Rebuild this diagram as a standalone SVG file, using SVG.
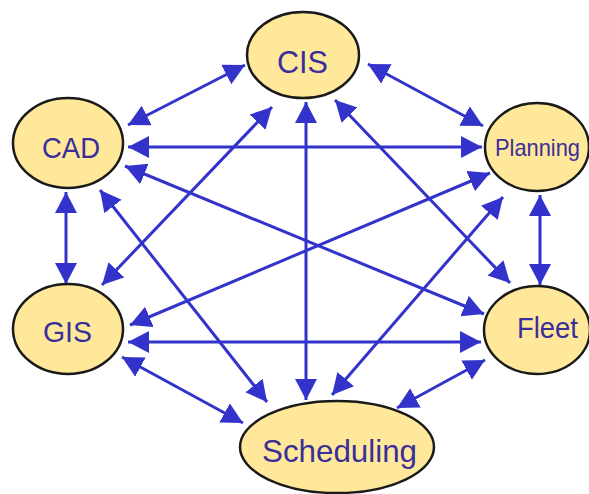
<svg xmlns="http://www.w3.org/2000/svg" width="589" height="494" viewBox="0 0 589 494">
<style>
.node ellipse{fill:#FFE899;stroke:#1a1a1a;stroke-width:2.5}
.node text{font-family:"Liberation Sans",Arial,sans-serif;fill:#3a2f9a}
.conn line{stroke:#3333CC;stroke-width:3;marker-start:url(#ah);marker-end:url(#ah)}
</style>
<defs>
<marker id="ah" markerUnits="userSpaceOnUse" markerWidth="24" markerHeight="24" refX="21" refY="11" orient="auto-start-reverse">
<path d="M0,0 L21,11 L0,22 z" fill="#3333CC"/>
</marker>
</defs>
<rect width="589" height="494" fill="#ffffff"/>
<g id="connectors" class="conn">
<line x1="245" y1="65" x2="128" y2="125"/>
<line x1="368" y1="64" x2="483" y2="126"/>
<line x1="128" y1="147" x2="482" y2="147"/>
<line x1="66" y1="192" x2="66" y2="284"/>
<line x1="540" y1="195" x2="540" y2="285"/>
<line x1="128" y1="342" x2="481" y2="342"/>
<line x1="306" y1="102" x2="306" y2="400"/>
<line x1="272" y1="107" x2="102" y2="285"/>
<line x1="335" y1="100" x2="510" y2="283"/>
<line x1="125" y1="166" x2="484" y2="314"/>
<line x1="100" y1="190" x2="267" y2="402"/>
<line x1="490" y1="173" x2="130" y2="325"/>
<line x1="503" y1="197" x2="332" y2="395"/>
<line x1="122" y1="357" x2="243" y2="423"/>
<line x1="485" y1="360" x2="397" y2="408"/>
</g>
<g id="cis" class="node">
<ellipse cx="303" cy="55" rx="56" ry="43"/>
<text x="277" y="73" font-size="32" textLength="51" lengthAdjust="spacingAndGlyphs">CIS</text>
</g>
<g id="cad" class="node">
<ellipse cx="68" cy="143" rx="55" ry="45"/>
<text x="42" y="158" font-size="29" textLength="58" lengthAdjust="spacingAndGlyphs">CAD</text>
</g>
<g id="planning" class="node">
<ellipse cx="537" cy="147" rx="52" ry="44"/>
<text x="495" y="156" font-size="24" textLength="85" lengthAdjust="spacingAndGlyphs">Planning</text>
</g>
<g id="gis" class="node">
<ellipse cx="68" cy="329" rx="55" ry="45"/>
<text x="43" y="342" font-size="30" textLength="49" lengthAdjust="spacingAndGlyphs">GIS</text>
</g>
<g id="fleet" class="node">
<ellipse cx="537" cy="330" rx="53" ry="44"/>
<text x="517" y="338" font-size="29" textLength="61" lengthAdjust="spacingAndGlyphs">Fleet</text>
</g>
<g id="scheduling" class="node">
<ellipse cx="337" cy="447" rx="97" ry="46"/>
<text x="262" y="462" font-size="32" textLength="155" lengthAdjust="spacingAndGlyphs">Scheduling</text>
</g>
</svg>
